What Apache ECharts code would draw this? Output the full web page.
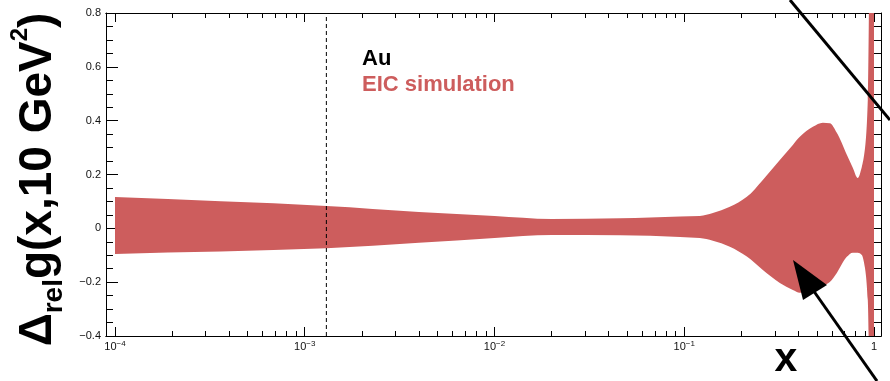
<!DOCTYPE html>
<html><head><meta charset="utf-8">
<script src="https://cdn.jsdelivr.net/npm/echarts@6/dist/echarts.min.js"></script>
<style>html,body{margin:0;padding:0;background:#fff}#c{width:890px;height:381px}</style>
</head><body><div id="c"></div>
<script>
// ---- data ----
const xValues = [1e-4, 1.3e-3, 4e-3, 1e-2, 0.02, 0.046, 0.095, 0.1209, 0.1415, 0.1739, 0.2137, 0.2595, 0.319, 0.3735, 0.4065, 0.4761, 0.5375, 0.585, 0.6368, 0.719, 0.7731, 0.8213, 0.8623, 0.8944, 0.9275, 0.9445, 0.9618, 1.0];
const upperValues = [0.116, 0.083, 0.061, 0.046, 0.035, 0.037, 0.044, 0.046, 0.057, 0.080, 0.117, 0.180, 0.254, 0.310, 0.340, 0.377, 0.392, 0.390, 0.355, 0.273, 0.225, 0.187, 0.228, 0.292, 0.478, 1.0, 2.5, 2.5];
const lowerValues = [-0.095, -0.074, -0.054, -0.036, -0.025, -0.026, -0.032, -0.036, -0.046, -0.068, -0.105, -0.155, -0.203, -0.229, -0.239, -0.229, -0.214, -0.199, -0.166, -0.106, -0.091, -0.091, -0.099, -0.144, -0.266, -0.6, -2.5, -2.5];
const xMajorTicks = [1e-4, 1e-3, 1e-2, 1e-1, 1];
const yTickLabels = ['−0.4', '−0.2', '0', '0.2', '0.4', '0.6', '0.8'];
const markerX = 1.3e-3;
const markerY = [-0.4, 0.8];
const headerText = 'Au';
const seriesName = 'EIC simulation';

// ---- axis range / styling ----
const xMin = 8.966e-5, xMax = 1.0886;
const xMinorTicks = [];
for (let e = -5; e <= -1; e++) for (let k = 2; k <= 9; k++) {
  const v = k * Math.pow(10, e);
  if (v >= xMin && v <= xMax) xMinorTicks.push(v);
}
const bandColor = '#cd5d5d';
const FONT = '"Liberation Sans", Arial, Helvetica, sans-serif';

const bandData = xValues.map((x, i) => [x, lowerValues[i], upperValues[i]]);

function xLabel(v) {
  const e = Math.round(Math.log10(v));
  if (e === 0) return '{b|1}';
  return '{b|10}{s|' + (e < 0 ? '−' : '') + Math.abs(e) + '}';
}
const xRich = {
  b: {fontSize: 11, lineHeight: 14, color: '#111', fontFamily: FONT},
  s: {fontSize: 8, lineHeight: 8, verticalAlign: 'top', color: '#111', fontFamily: FONT}
};
function xAxisDef(pos, ticks, len, withLabels) {
  const a = {
    type: 'log', logBase: 10, position: pos, min: xMin, max: xMax, gridIndex: 0,
    axisLine: {show: true, onZero: false, lineStyle: {color: '#000', width: 1}},
    axisTick: {show: true, inside: true, length: len, customValues: ticks, lineStyle: {color: '#000', width: 1}},
    axisLabel: {show: false},
    splitLine: {show: false}, minorTick: {show: false}, minorSplitLine: {show: false}
  };
  if (withLabels) {
    a.axisLabel = {show: true, customValues: xMajorTicks, margin: 4, formatter: xLabel, rich: xRich};
    a.name = 'x';
    a.nameLocation = 'end';
    a.nameGap = -95;
    a.nameTextStyle = {fontSize: 41, fontWeight: 'bold', color: '#000', fontFamily: FONT, align: 'center', verticalAlign: 'top', padding: [3, 0, 0, 0]};
  }
  return a;
}
function yAxisDef(pos, withLabels) {
  const a = {
    type: 'value', position: pos, min: -0.4, max: 0.8, interval: 0.2,
    axisLine: {show: true, onZero: false, lineStyle: {color: '#000', width: 1}},
    axisTick: {show: true, inside: true, length: 12, lineStyle: {color: '#000'}},
    minorTick: {show: true, splitNumber: 4, length: 7, lineStyle: {color: '#000'}},
    splitLine: {show: false}, minorSplitLine: {show: false},
    axisLabel: {show: false}
  };
  if (withLabels) {
    a.axisLabel = {show: true, margin: 5, fontSize: 11, color: '#111', fontFamily: FONT,
      formatter: v => yTickLabels[Math.round((v + 0.4) / 0.2)]};
    a.name = '{d|Δ}{sub|rel}{m|g(x,10 GeV}{sup|2}{m|)}';
    a.nameLocation = 'middle';
    a.nameRotate = 90;
    a.nameGap = 17;
    a.nameTextStyle = {
      fontFamily: FONT, fontWeight: 'bold', color: '#000', padding: [0, 10, 0, 0],
      rich: {
        d: {fontSize: 46, fontWeight: 'bold', lineHeight: 60, fontFamily: FONT, color: '#000'},
        m: {fontSize: 46, fontWeight: 'bold', lineHeight: 60, fontFamily: FONT, color: '#000'},
        sub: {fontSize: 28, fontWeight: 'bold', lineHeight: 20, verticalAlign: 'bottom', fontFamily: FONT, color: '#000'},
        sup: {fontSize: 24, fontWeight: 'bold', lineHeight: 24, verticalAlign: 'top', fontFamily: FONT, color: '#000'}
      }
    };
  }
  return a;
}

// monotone cubic (in pixel space) bezier segments through points
function monoSegments(p) {
  const n = p.length, dx = [], m = [], t = [];
  for (let i = 0; i < n - 1; i++) {
    dx[i] = p[i + 1][0] - p[i][0];
    m[i] = (p[i + 1][1] - p[i][1]) / dx[i];
  }
  t[0] = m[0]; t[n - 1] = m[n - 2];
  for (let i = 1; i < n - 1; i++) {
    if (m[i - 1] * m[i] <= 0) t[i] = 0;
    else t[i] = 3 * (dx[i - 1] + dx[i]) / ((2 * dx[i] + dx[i - 1]) / m[i - 1] + (dx[i] + 2 * dx[i - 1]) / m[i]);
  }
  const segs = [];
  for (let i = 0; i < n - 1; i++) {
    const h = dx[i] / 3;
    segs.push([p[i], [p[i][0] + h, p[i][1] + t[i] * h], [p[i + 1][0] - h, p[i + 1][1] - t[i + 1] * h], p[i + 1]]);
  }
  return segs;
}
function renderBand(params, api) {
  if (params.dataIndex !== 0) return null;
  const up = bandData.map(d => api.coord([d[0], d[2]]));
  const lo = bandData.map(d => api.coord([d[0], d[1]]));
  const su = monoSegments(up), sl = monoSegments(lo);
  const f = q => q[0].toFixed(2) + ' ' + q[1].toFixed(2);
  let d = 'M' + f(up[0]);
  su.forEach(s => { d += ' C' + f(s[1]) + ' ' + f(s[2]) + ' ' + f(s[3]); });
  d += ' L' + f(lo[lo.length - 1]);
  for (let i = sl.length - 1; i >= 0; i--) {
    const s = sl[i];
    d += ' C' + f(s[2]) + ' ' + f(s[1]) + ' ' + f(s[0]);
  }
  d += ' Z';
  const cs = params.coordSys;
  return {
    type: 'group',
    clipPath: {type: 'rect', shape: {x: cs.x, y: cs.y, width: cs.width, height: cs.height}},
    children: [{type: 'path', shape: {pathData: d}, style: {fill: bandColor, stroke: null}}]
  };
}

const chart = echarts.init(document.getElementById('c'), null, {renderer: 'canvas'});
chart.setOption({
  animation: false,
  backgroundColor: '#fff',
  textStyle: {fontFamily: FONT},
  grid: {left: 106, right: 9, top: 13, bottom: 45, containLabel: false},
  title: {text: headerText, left: 362, top: 48, padding: 0,
    textStyle: {fontSize: 22, fontWeight: 'bold', color: '#000', fontFamily: FONT}},
  legend: {data: [seriesName], left: 357, top: 74, padding: 0, itemWidth: 0, itemHeight: 0, icon: 'none',
    selectedMode: false, textStyle: {fontSize: 22, fontWeight: 'bold', color: bandColor, fontFamily: FONT}},
  xAxis: [
    xAxisDef('bottom', xMajorTicks, 9, true),
    xAxisDef('bottom', xMinorTicks, 5, false),
    xAxisDef('top', xMajorTicks, 9, false),
    xAxisDef('top', xMinorTicks, 5, false)
  ],
  yAxis: [yAxisDef('left', true), yAxisDef('right', false)],
  series: [
    {
      name: seriesName, type: 'custom', coordinateSystem: 'cartesian2d',
      xAxisIndex: 0, yAxisIndex: 0, data: bandData, encode: {x: 0, y: [1, 2]},
      itemStyle: {color: bandColor}, renderItem: renderBand, z: 2
    },
    {
      name: 'marker', type: 'line', xAxisIndex: 0, yAxisIndex: 0,
      data: markerY.map(y => [markerX, y]), symbol: 'none', silent: true, z: 5,
      lineStyle: {color: '#000', width: 1, type: [4, 3]}
    }
  ],
  graphic: [
    {type: 'line', z: 100, shape: {x1: 790, y1: 0, x2: 890, y2: 120}, style: {stroke: '#000', lineWidth: 3}},
    {type: 'line', z: 100, shape: {x1: 877, y1: 381, x2: 813, y2: 290}, style: {stroke: '#000', lineWidth: 3}},
    {type: 'polygon', z: 100, shape: {points: [[793, 260], [803, 300], [827, 285]]}, style: {fill: '#000'}}
  ]
});
</script>
</body></html>
